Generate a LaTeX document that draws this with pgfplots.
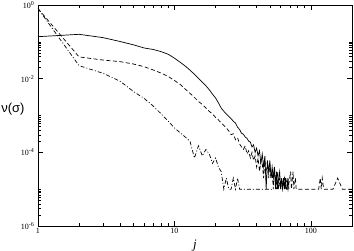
\documentclass[border=0pt]{standalone}
\usepackage{fontspec}
\setmainfont{Liberation Serif}
\newfontfamily\labsans{Liberation Sans}
\usepackage{pgfplots}
\pgfplotsset{compat=1.18}
\usetikzlibrary{calc}
\begin{document}
\begin{tikzpicture}
\begin{axis}[
  xmode=log, ymode=log,
  scale only axis, width=314pt, height=221pt,
  xmin=1, xmax=200, ymin=1e-6, ymax=1,
  axis line style={line width=0.8pt},
  tick align=inside, tick pos=both,
  major tick length=5pt, minor tick length=3pt,
  every tick/.style={black, line width=0.5pt},
  xtick={1,10,100}, xticklabels={1,10,100},
  minor xtick={2,3,4,5,6,7,8,9,20,30,40,50,60,70,80,90,200},
  ytick={1e-6,1e-4,1e-2,1},
  yticklabels={10\textsuperscript{-6},10\textsuperscript{-4},10\textsuperscript{-2},10\textsuperscript{0}},
  minor ytick={2e-6,3e-6,4e-6,5e-6,6e-6,7e-6,8e-6,9e-6,1e-5,2e-4,3e-4,4e-4,5e-4,6e-4,7e-4,8e-4,9e-4,1e-3,2e-2,3e-2,4e-2,5e-2,6e-2,7e-2,8e-2,9e-2,1e-1},
  tick label style={font=\fontsize{8}{9}\selectfont},
  xticklabel style={yshift=1pt},
  xlabel={\textit{j}},
  ylabel={\labsans ν(σ)},
  every axis x label/.style={at={(rel axis cs:0.5,0)}, anchor=north, yshift=-10pt, font=\fontsize{13}{14}\selectfont},
  every axis y label/.style={at={(rel axis cs:0,0.53)}, anchor=east, xshift=-10pt, font=\fontsize{13}{14}\selectfont},
  clip=true,
]
\addplot[black, line width=0.7pt] coordinates {
(1,0.138)(2,0.160)(3,0.130)(4,0.102)(5,0.083)(6,0.068)(7,0.062)(8,0.054)(9,0.046)(10,0.036)
(11,0.028)(12,0.022)(13,0.0170)(14,0.0132)(15,0.0102)(16,0.0080)(17,0.0064)(18,0.0050)(19,0.0038)(20,0.0030)
(21,0.0022)(22,0.0016)(23,0.0013)(24,0.0011)(25,9.5e-4)(26,8.2e-4)(27,7.0e-4)(28,6.2e-4)(29,4.8e-4)(30,4.2e-4)
(31,3.3e-4)(32,3.1e-4)(33,2.6e-4)(34,2.4e-4)(35,2.0e-4)(36,1.9e-4)(37,1.4e-4)(38,1.6e-4)(39,1.0e-4)(40,1.3e-4)
(41,8e-5)(42,1.1e-4)(43,5e-5)(44,9e-5)(45,4e-5)(46,8e-5)(47,1e-5)(48,6e-5)(49,3e-5)(50,6e-5)
(51,2e-5)(52,4e-5)(53,2e-5)(54,4e-5)(55,1e-5)(56,3e-5)(57,1e-5)(58,2e-5)(59,3e-5)(60,1e-5)
(61,2e-5)(62,1e-5)(63,2e-5)(64,1e-5)(65,2e-5)(66,1e-5)(67,1e-5)(68,2e-5)(69,1e-5)
};
\addplot[black, line width=0.7pt, dash pattern=on 4pt off 2.5pt] coordinates {
(1,0.8)(2,0.039)(3,0.032)(4,0.029)(5,0.025)(6,0.0211)(7,0.0172)(8,0.0141)(9,0.0115)(10,0.0089)
(11,0.0070)(12,0.0052)(13,0.0040)(14,0.0031)(15,0.0024)(16,0.0020)(17,0.0016)(18,0.0013)(19,0.0011)(20,8.9e-4)
(21,7.6e-4)(22,6.3e-4)(23,5.4e-4)(24,4.6e-4)(25,3.8e-4)(26,3.0e-4)(27,3.2e-4)(28,2.2e-4)(29,2.5e-4)(30,1.7e-4)
(31,1.4e-4)(32,1.2e-4)(33,1.5e-4)(34,9e-5)(35,1.1e-4)(36,7e-5)(37,1.0e-4)(38,6e-5)(39,8e-5)(40,4e-5)
(41,7e-5)(42,3e-5)(43,6e-5)(44,5e-5)(45,2e-5)(46,6e-5)(47,3e-5)(48,4e-5)(49,2e-5)(50,5e-5)
(51,2e-5)(52,3e-5)(53,1e-5)(54,4e-5)(55,2e-5)(56,1e-5)(57,3e-5)(58,1e-5)(59,2e-5)(60,1e-5)
(61,2e-5)(62,1e-5)(64,2e-5)(65,1e-5)(67,2e-5)(68,1e-5)(71,3e-5)(72,1e-5)(74,3e-5)(75,1e-5)
(77,2e-5)(78,1e-5)(95,1e-5)(114,1e-5)(117,2e-5)(119,1e-5)(121,2e-5)(124,1e-5)(145,1e-5)(157,2e-5)
(170,1e-5)(200,1e-5)
};
\addplot[black, line width=0.7pt, dash pattern=on 4pt off 2pt on 1pt off 2pt] coordinates {
(1,0.8)(2,0.0225)(3,0.014)(4,0.0085)(5,0.0045)(6,0.0029)(7,0.0018)(8,0.0011)(9,7.0e-4)(10,4.6e-4)
(11,3.4e-4)(12,2.6e-4)(13,2.0e-4)(14,7e-5)(15,1.5e-4)(16,8e-5)(17,1.2e-4)(18,9e-5)(19,5e-5)(20,7e-5)
(21,4e-5)(22,3e-5)(23,1e-5)(24,2e-5)(25,1e-5)(26,1e-5)(27,2e-5)(28,1e-5)(29,2e-5)(30,1e-5)
(52,1e-5)
};
\end{axis}
\pgfresetboundingbox
\path ($(current axis.south west)+(-38pt,-25pt)$) rectangle ($(current axis.north east)+(2pt,5pt)$);
\end{tikzpicture}
\end{document}
